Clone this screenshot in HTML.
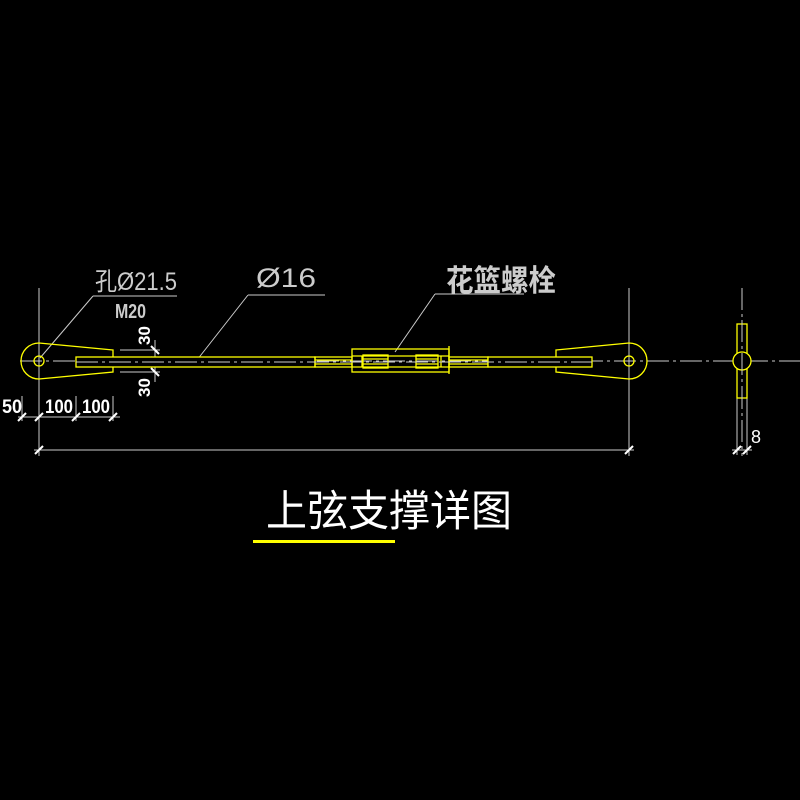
<!DOCTYPE html>
<html><head><meta charset="utf-8"><style>
html,body{margin:0;padding:0;background:#000;width:800px;height:800px;overflow:hidden}
svg{display:block}
text{font-family:"Liberation Sans","Noto Sans CJK SC",sans-serif}
</style></head><body>
<svg width="800" height="800" viewBox="0 0 800 800">
<rect width="800" height="800" fill="#000"/>
<g stroke="#ccc" stroke-width="1" fill="none">
<line x1="20" y1="361" x2="800" y2="361" stroke-dasharray="22,4,3,4"/>
<line x1="39" y1="288" x2="39" y2="456"/>
<line x1="629" y1="288" x2="629" y2="456"/>
<line x1="742" y1="288" x2="742" y2="456" stroke-dasharray="22,4,3,4"/>
<line x1="18" y1="417" x2="120" y2="417"/>
<line x1="22" y1="396" x2="22" y2="421"/>
<line x1="76" y1="396" x2="76" y2="421"/>
<line x1="113" y1="396" x2="113" y2="421"/>
<line x1="34" y1="450" x2="634" y2="450"/>
<line x1="120" y1="350" x2="160" y2="350"/>
<line x1="120" y1="372" x2="160" y2="372"/>
<line x1="155" y1="340" x2="155" y2="382"/>
<line x1="732" y1="450" x2="752" y2="450"/>
<line x1="737" y1="395" x2="737" y2="455"/>
<line x1="747" y1="395" x2="747" y2="455"/>
<line x1="93" y1="296" x2="177" y2="296"/>
<line x1="93" y1="296" x2="40" y2="358"/>
<line x1="248" y1="295" x2="325" y2="295"/>
<line x1="248" y1="295" x2="197" y2="360"/>
<line x1="435" y1="294" x2="524" y2="294"/>
<line x1="435" y1="294" x2="395" y2="352"/>
</g>
<g stroke="#fff" stroke-width="2">
<line x1="18" y1="421" x2="26" y2="413"/>
<line x1="35" y1="421" x2="43" y2="413"/>
<line x1="72" y1="421" x2="80" y2="413"/>
<line x1="109" y1="421" x2="117" y2="413"/>
<line x1="35" y1="454" x2="43" y2="446"/>
<line x1="625" y1="454" x2="633" y2="446"/>
<line x1="151" y1="346" x2="159" y2="354"/>
<line x1="151" y1="357" x2="159" y2="365"/>
<line x1="151" y1="368" x2="159" y2="376"/>
<line x1="733" y1="454" x2="741" y2="446"/>
<line x1="743" y1="454" x2="751" y2="446"/>
</g>
<g stroke="#ff0" stroke-width="1.3" fill="none">
<path d="M113,350 L39,343 A18,18 0 0 0 39,379 L113,372 Z"/>
<circle cx="39" cy="361" r="5"/>
<rect x="76" y="357" width="239" height="10" fill="#000"/>
<rect x="315" y="357" width="37" height="10"/>
<line x1="315" y1="360" x2="352" y2="360"/><line x1="315" y1="364" x2="352" y2="364"/>
<rect x="352" y="349" width="97" height="23"/>
<line x1="449" y1="346" x2="449" y2="374"/>
<line x1="362" y1="356" x2="362" y2="367"/>
<line x1="441" y1="356" x2="441" y2="367"/>
<line x1="352" y1="356" x2="449" y2="356"/><line x1="352" y1="367" x2="449" y2="367"/>
<rect x="363" y="355" width="25" height="13"/>
<line x1="363" y1="359" x2="388" y2="359"/><line x1="363" y1="364" x2="388" y2="364"/>
<rect x="416" y="355" width="22" height="13"/>
<line x1="416" y1="359" x2="438" y2="359"/><line x1="416" y1="364" x2="438" y2="364"/>
<rect x="449" y="357" width="39" height="10"/>
<line x1="449" y1="360" x2="488" y2="360"/><line x1="449" y1="364" x2="488" y2="364"/>
<path d="M556,350 L629,343 A18,18 0 0 1 629,379 L556,372 Z"/>
<rect x="488" y="357" width="104" height="10" fill="#000"/>
<circle cx="629" cy="361" r="5"/>
<rect x="737" y="324" width="10" height="74" fill="#000"/>
<circle cx="742" cy="361" r="9" fill="#000"/>
</g>
<line x1="76" y1="362" x2="592" y2="362" stroke="#ccc" stroke-dasharray="22,4,3,4"/>
<line x1="742" y1="320" x2="742" y2="402" stroke="#ccc" stroke-dasharray="22,4,3,4"/>
<g fill="#fff" font-weight="bold">
<text x="2" y="413" font-size="19" textLength="20" lengthAdjust="spacingAndGlyphs">50</text>
<text x="45" y="413" font-size="19" textLength="28" lengthAdjust="spacingAndGlyphs">100</text>
<text x="82" y="413" font-size="19" textLength="28" lengthAdjust="spacingAndGlyphs">100</text>
<text transform="translate(150,345) rotate(-90)" font-size="17">30</text>
<text transform="translate(150,397) rotate(-90)" font-size="17">30</text>
</g>
<text x="751" y="443" font-size="18" fill="#fff">8</text>
<text x="95" y="290" font-size="25" fill="#ccc" textLength="82" lengthAdjust="spacingAndGlyphs">孔Ø21.5</text>
<text x="115" y="318" font-size="20" fill="#ccc" font-weight="bold" textLength="31" lengthAdjust="spacingAndGlyphs">M20</text>
<text x="256" y="287" font-size="27" fill="#ccc" textLength="60" lengthAdjust="spacingAndGlyphs">Ø16</text>
<text x="446" y="291" font-size="30" fill="#ccc" font-weight="bold" textLength="110" lengthAdjust="spacingAndGlyphs">花篮螺栓</text>
<text x="266" y="526" font-size="43" fill="#fff" textLength="246" lengthAdjust="spacingAndGlyphs">上弦支撑详图</text>
<rect x="253" y="540" width="142" height="3" fill="#ff0"/>
</svg>
</body></html>
